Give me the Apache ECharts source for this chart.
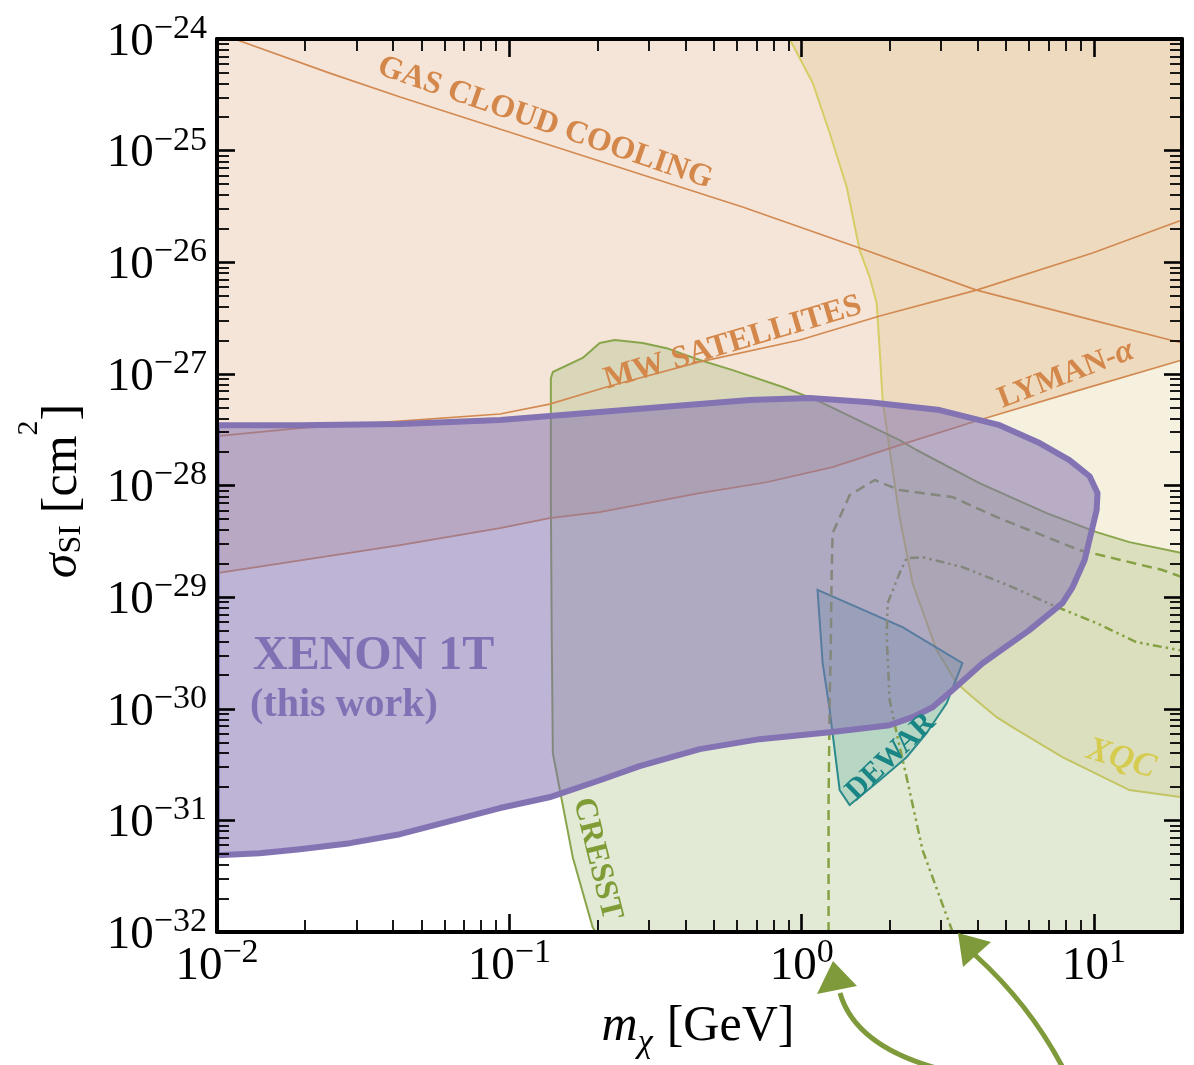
<!DOCTYPE html>
<html>
<head>
<meta charset="utf-8">
<script src="https://cdn.jsdelivr.net/npm/echarts@6/dist/echarts.min.js"></script>
<style>
html,body{margin:0;padding:0;background:#ffffff;}
#chart{width:1194px;height:1065px;}
</style>
</head>
<body>
<div id="chart"></div>
<script>
// ---------- data (mass in GeV, cross-section in cm^2) ----------
const xenon1TRegion = [
  [0.0100,3.47e-28],[0.0192,3.47e-28],[0.0423,3.55e-28],[0.0929,3.86e-28],[0.1374,4.19e-28],
  [0.302,4.94e-28],[0.664,5.82e-28],[1.065,6.07e-28],[1.708,5.58e-28],[2.965,4.74e-28],
  [4.753,3.47e-28],[6.516,2.40e-28],[8.24,1.69e-28],[9.66,1.21e-28],[10.28,8.55e-29],
  [10.21,6.03e-29],[9.886,4.24e-29],[9.29,2.15e-29],[8.453,1.23e-29],[7.798,8.83e-30],
  [6.012,5.06e-30],[4.159,2.56e-30],[3.283,1.47e-30],[2.805,1.03e-30],[2.395,8.41e-31],
  [2.0,7.13e-31],[1.247,6.17e-31],[0.718,5.34e-31],[0.448,4.35e-31],[0.279,3.06e-31],
  [0.204,2.29e-31],[0.137,1.61e-31],[0.0929,1.29e-31],[0.0627,9.84e-32],[0.0423,7.52e-32],
  [0.0285,6.25e-32],[0.0192,5.52e-32],[0.0140,5.08e-32],[0.0100,4.88e-32]
];
const cresstRegion = [
  [0.1387,9.17e-28],[0.1409,1.04e-27],[0.1782,1.39e-27],[0.2038,1.89e-27],[0.2296,2.01e-27],
  [0.2858,1.89e-27],[0.3451,1.70e-27],[0.4477,1.33e-27],[0.5807,1.08e-27],[0.861,7.62e-28],
  [1.125,5.82e-28],[2.163,2.55e-28],[2.472,2.08e-28],[4.055,1.05e-28],[6.887,5.66e-29],
  [10.21,3.82e-29],[13.21,3.11e-29],[20,2.48e-29],[20,1e-32],[0.1976,1e-32],
  [0.1928,1.10e-32],[0.1648,4.68e-32],[0.1489,1.87e-31],[0.1409,4.0e-31],[0.1397,4.12e-30],
  [0.1387,7.40e-29]
];
const xqcRegion = [
  [0.910,1e-24],[1.091,4.04e-25],[1.247,1.44e-25],[1.426,4.72e-26],[1.578,1.29e-26],
  [1.708,7.36e-27],[1.805,4.31e-27],[1.849,1.63e-27],[1.892,5.82e-28],[2.0,2.08e-28],
  [2.163,5.21e-29],[2.395,1.33e-29],[2.895,3.35e-30],[3.388,1.70e-30],[3.846,1.27e-30],
  [4.645,8.41e-31],[5.26,6.84e-31],[7.798,3.68e-31],[13.21,1.87e-31],[20,1.61e-31],[20,1e-24]
];
const dewarRegion = [
  [1.133,1.16e-29],[2.213,5.38e-30],[3.548,2.56e-30],[3.133,1.12e-30],[2.675,6.04e-31],
  [2.285,3.68e-31],[1.849,2.29e-31],[1.459,1.37e-31],[1.349,1.87e-31],[1.247,9.70e-31],
  [1.180,2.56e-30]
];
const gasCloudCooling = [
  [0.01,1.13e-24],[0.01199,9.59e-25],[0.0243,4.95e-25],[0.0423,3.02e-25],[0.628,3.13e-26],
  [1.578,1.34e-26],[3.963,5.63e-27],[9.886,3.03e-27],[20,1.89e-27]
];
const mwSatellites = [
  [0.01,2.77e-28],[0.0192,3.27e-28],[0.0423,3.78e-28],[0.0929,4.37e-28],[0.1374,5.36e-28],
  [0.2208,7.78e-28],[0.4477,1.28e-27],[0.9862,2.01e-27],[1.849,3.30e-27],[3.963,5.63e-27],
  [9.886,1.21e-26],[20,2.39e-26]
];
const lymanAlpha = [
  [0.01,1.64e-29],[0.0423,2.92e-29],[0.0929,4.15e-29],[0.1374,5.11e-29],[0.2038,5.78e-29],
  [0.4477,8.55e-29],[0.758,1.07e-28],[1.276,1.46e-28],[2.163,2.30e-28],[4.055,3.86e-28],
  [8.913,7.16e-28],[20,1.33e-27]
];
const cresstDashed = [
  [1.236,1e-32],[1.236,1.5e-31],[1.247,1.19e-30],[1.257,3.35e-30],[1.266,1.51e-29],
  [1.276,3.74e-29],[1.459,8.2e-29],[1.778,1.12e-28],[2.163,9.10e-29],[3.283,7.87e-29],
  [4.645,5.21e-29],[8.913,2.64e-29],[17.14,1.75e-29],[20,1.51e-29]
];
const cresstDashDot = [
  [3.283,1e-32],[2.592,5.41e-32],[2.285,2.44e-31],[2.113,6.04e-31],[2.0,1.19e-30],
  [1.954,4.38e-30],[1.968,8.83e-30],[2.163,1.64e-29],[2.285,2.23e-29],[2.592,2.28e-29],
  [3.548,1.86e-29],[5.26,1.23e-29],[7.211,8.47e-30],[10.21,5.85e-30],[13.96,3.95e-30],
  [19.59,3.35e-30],[20,3.3e-30]
];
const X_MIN = 0.01, X_MAX = 20;             // GeV
const SIGMA_MIN = 1e-32, SIGMA_MAX = 1e-24; // cm^2
const xTickExponents = [-2, -1, 0, 1];
const yTickExponents = [-32, -31, -30, -29, -28, -27, -26, -25, -24];
const minorTickMultiples = [2, 3, 4, 5, 6, 7, 8, 9];

(function () {
// The log axis cannot hold values as small as 1e-32, so the y axis runs in units of 1e-32 cm^2
// and its labels are written back as powers of ten in cm^2.
const SIGMA_UNIT_EXP = -32;
const SIGMA_UNIT = Math.pow(10, SIGMA_UNIT_EXP);
function toAxis(pts) { return pts.map(function (p) { return [p[0], p[1] / SIGMA_UNIT]; }); }
const Y_MIN = SIGMA_MIN / SIGMA_UNIT, Y_MAX = SIGMA_MAX / SIGMA_UNIT;

const FONT = "'Liberation Serif', 'DejaVu Serif', serif";
const chart = echarts.init(document.getElementById('chart'));

function polygonSeries(name, pts, style, z) {
  const data = toAxis(pts);
  return {
    type: 'custom', name: name, z: z, clip: true, silent: true, animation: false,
    data: data, encode: { x: 0, y: 1 },
    renderItem: function (params, api) {
      if (params.dataIndex !== 0) return null;
      return { type: 'polygon', shape: { points: data.map(function (p) { return api.coord(p); }) }, style: style };
    }
  };
}
function lineSeries(name, pts, color, width, type, z) {
  return {
    type: 'line', name: name, data: toAxis(pts), z: z, symbol: 'none', silent: true, animation: false,
    clip: true, smooth: false,
    lineStyle: { color: color, width: width, type: type || 'solid', cap: 'butt' }
  };
}

const peachRegion = lymanAlpha.concat([[X_MAX, SIGMA_MAX], [X_MIN, SIGMA_MAX]]);

// ---------- inward ticks on all four sides, drawn in data space as short segments ----------
// tick lengths expressed as fractions of a decade (grid is ~292.5 px per x decade, ~111.6 px per y decade)
const X_DECADE_PX = 292.5, Y_DECADE_PX = 111.6;
const MAJOR_LEN = 18, MINOR_LEN = 12;
function yFactor(len) { return Math.pow(10, len / Y_DECADE_PX); }
function xFactor(len) { return Math.pow(10, len / X_DECADE_PX); }
const majorTicks = [], minorTicks = [];
function addXTick(v, major) {
  const f = yFactor(major ? MAJOR_LEN : MINOR_LEN);
  const list = major ? majorTicks : minorTicks;
  list.push({ coords: [[v, Y_MIN], [v, Y_MIN * f]] });
  list.push({ coords: [[v, Y_MAX], [v, Y_MAX / f]] });
}
function addYTick(v, major) {
  const f = xFactor(major ? MAJOR_LEN : MINOR_LEN);
  const list = major ? majorTicks : minorTicks;
  list.push({ coords: [[X_MIN, v], [X_MIN * f, v]] });
  list.push({ coords: [[X_MAX, v], [X_MAX / f, v]] });
}
xTickExponents.forEach(function (e) {
  const base = Math.pow(10, e);
  addXTick(base, true);
  minorTickMultiples.forEach(function (k) { if (k * base < X_MAX * 0.995) addXTick(k * base, false); });
});
yTickExponents.forEach(function (e) {
  const base = Math.pow(10, e - SIGMA_UNIT_EXP);
  addYTick(base, true);
  minorTickMultiples.forEach(function (k) { if (k * base < Y_MAX * 0.995) addYTick(k * base, false); });
});
function tickSeries(name, data, width) {
  return { type: 'lines', name: name, coordinateSystem: 'cartesian2d', xAxisIndex: 0, yAxisIndex: 0,
    polyline: false, silent: true, animation: false, z: 30, clip: false, effect: { show: false },
    lineStyle: { color: '#000', width: width, opacity: 1, curveness: 0, cap: 'butt' }, data: data };
}

function powerText(e) { return '{b|10}{s|' + (e < 0 ? '\u2212' : '') + Math.abs(e) + '}'; }
function xLabel(v) { return powerText(Math.round(Math.log10(v))); }
function yLabel(v) { return powerText(Math.round(Math.log10(v)) + SIGMA_UNIT_EXP); }
const labelRich = {
  b: { fontFamily: FONT, fontSize: 47, color: '#000', verticalAlign: 'bottom' },
  s: { fontFamily: FONT, fontSize: 34, color: '#000', verticalAlign: 'bottom', padding: [0, 0, 20, 0] }
};

function axisCommon(extra) {
  return Object.assign({
    type: 'log', logBase: 10, z: 20,
    axisLine: { show: true, onZero: false, lineStyle: { color: '#000', width: 4 } },
    axisTick: { show: false }, minorTick: { show: false },
    splitLine: { show: false }, minorSplitLine: { show: false }
  }, extra);
}

const orange = '#d28a52';
const textOrange = '#d4874a';

const graphics = [
  { type: 'text', z: 50, x: 545, y: 123, rotation: -19 * Math.PI / 180,
    style: { text: 'GAS CLOUD COOLING', fontFamily: FONT, fontWeight: 'bold', fontSize: 32, fill: textOrange, align: 'center', verticalAlign: 'middle' } },
  { type: 'text', z: 50, x: 733, y: 343, rotation: 16.5 * Math.PI / 180,
    style: { text: 'MW SATELLITES', fontFamily: FONT, fontWeight: 'bold', fontSize: 32, fill: textOrange, align: 'center', verticalAlign: 'middle' } },
  { type: 'text', z: 50, x: 1066, y: 375, rotation: 21 * Math.PI / 180,
    style: { text: '{a|LYMAN-}{g|\u03b1}', align: 'center', verticalAlign: 'middle',
      rich: { a: { fontFamily: FONT, fontWeight: 'bold', fontSize: 31, fill: textOrange }, g: { fontFamily: FONT, fontStyle: 'italic', fontWeight: 'bold', fontSize: 33, fill: textOrange } } } },
  { type: 'text', z: 50, x: 253, y: 657,
    style: { text: 'XENON 1T', fontFamily: FONT, fontWeight: 'bold', fontSize: 48, fill: '#8070b4', align: 'left', verticalAlign: 'middle' } },
  { type: 'text', z: 50, x: 250, y: 706,
    style: { text: '(this work)', fontFamily: FONT, fontWeight: 'bold', fontSize: 40, fill: '#8070b4', align: 'left', verticalAlign: 'middle' } },
  { type: 'text', z: 50, x: 597, y: 859, rotation: -76 * Math.PI / 180,
    style: { text: 'CRESST', fontFamily: FONT, fontWeight: 'bold', fontSize: 32, fill: '#7f9c37', align: 'center', verticalAlign: 'middle' } },
  { type: 'text', z: 50, x: 891, y: 757, rotation: 44 * Math.PI / 180,
    style: { text: 'DEWAR', fontFamily: FONT, fontWeight: 'bold', fontSize: 30, fill: '#1a8585', align: 'center', verticalAlign: 'middle' } },
  { type: 'text', z: 50, x: 1121, y: 759, rotation: -17 * Math.PI / 180,
    style: { text: 'XQC', fontFamily: FONT, fontWeight: 'bold', fontStyle: 'italic', fontSize: 34, fill: '#d5cb4e', align: 'center', verticalAlign: 'middle' } },
  { type: 'text', z: 50, x: 698, y: 1031,
    style: { text: '{i|m}{sub|\u03c7}{r|[GeV]}', align: 'center', verticalAlign: 'middle', fill: '#000',
      rich: {
        i: { fontFamily: FONT, fontStyle: 'italic', fontSize: 50, verticalAlign: 'top', fill: '#000' },
        r: { fontFamily: FONT, fontSize: 50, verticalAlign: 'top', fill: '#000', padding: [0, 0, 0, 14] },
        sub: { fontFamily: FONT, fontStyle: 'italic', fontSize: 34, verticalAlign: 'top', padding: [24, 0, 0, 0], fill: '#000' }
      } } },
  { type: 'text', z: 50, x: 51, y: 491, rotation: Math.PI / 2,
    style: { text: '{i|\u03c3}{sub|SI}{r1|[cm}{sup|2}{r|]}', align: 'center', verticalAlign: 'middle', fill: '#000',
      rich: {
        i: { fontFamily: FONT, fontStyle: 'italic', fontSize: 50, verticalAlign: 'bottom', fill: '#000' },
        r1: { fontFamily: FONT, fontSize: 50, verticalAlign: 'bottom', fill: '#000', padding: [0, 0, 0, 12] },
        r: { fontFamily: FONT, fontSize: 50, verticalAlign: 'bottom', fill: '#000' },
        sub: { fontFamily: FONT, fontSize: 32, verticalAlign: 'bottom', fill: '#000' },
        sup: { fontFamily: FONT, fontSize: 30, verticalAlign: 'bottom', padding: [0, 0, 44, 0], fill: '#000' }
      } } },
  { type: 'bezierCurve', z: 50, shape: { x1: 840, y1: 993, cpx1: 855, cpy1: 1045, x2: 936, y2: 1068 },
    style: { stroke: '#7f9a3a', lineWidth: 5, fill: null } },
  { type: 'polygon', z: 50, shape: { points: [[833, 961], [817, 994], [857, 986]] }, style: { fill: '#7f9a3a' } },
  { type: 'bezierCurve', z: 50, shape: { x1: 975, y1: 955, cpx1: 1030, cpy1: 1005, x2: 1063, y2: 1068 },
    style: { stroke: '#7f9a3a', lineWidth: 5, fill: null } },
  { type: 'polygon', z: 50, shape: { points: [[958, 933], [963, 967], [991, 942]] }, style: { fill: '#7f9a3a' } }
];

const option = {
  backgroundColor: '#ffffff',
  animation: false,
  grid: { left: 217, top: 39, right: 12, bottom: 133, containLabel: false },
  xAxis: [
    axisCommon({ min: X_MIN, max: X_MAX, position: 'bottom', interval: 1,
      axisLabel: { margin: 4, showMaxLabel: false, formatter: xLabel, rich: labelRich } }),
    axisCommon({ min: X_MIN, max: X_MAX, position: 'top', axisLabel: { show: false } })
  ],
  yAxis: [
    axisCommon({ min: Y_MIN, max: Y_MAX, position: 'left', interval: 1,
      axisLabel: { margin: 10, formatter: yLabel, rich: labelRich } }),
    axisCommon({ min: Y_MIN, max: Y_MAX, position: 'right', axisLabel: { show: false } })
  ],
  series: [
    polygonSeries('Cosmology', peachRegion, { fill: 'rgba(215,150,100,0.25)' }, 1),
    polygonSeries('XQC', xqcRegion, { fill: 'rgba(212,186,100,0.21)', stroke: '#d6cd66', lineWidth: 2 }, 2),
    polygonSeries('CRESST', cresstRegion, { fill: 'rgba(140,170,90,0.25)', stroke: '#89a54b', lineWidth: 2, lineJoin: 'round' }, 3),
    polygonSeries('DEWAR', dewarRegion, { fill: 'rgba(50,150,140,0.24)', stroke: '#2a8a8c', lineWidth: 2 }, 4),
    lineSeries('Gas cloud cooling', gasCloudCooling, orange, 1.7, 'solid', 5),
    lineSeries('MW satellites', mwSatellites, orange, 1.7, 'solid', 5),
    lineSeries('Lyman-alpha', lymanAlpha, orange, 1.7, 'solid', 5),
    lineSeries('CRESST surface', cresstDashed, '#86a144', 2.5, [10, 6], 5),
    lineSeries('CRESST surface 2', cresstDashDot, '#86a144', 2.5, [9, 4, 2.5, 4, 2.5, 4], 5),
    polygonSeries('XENON1T', xenon1TRegion, { fill: 'rgba(128,112,176,0.52)', stroke: '#8373b3', lineWidth: 6, lineJoin: 'round' }, 6),
    tickSeries('major ticks', majorTicks, 2.6),
    tickSeries('minor ticks', minorTicks, 1.8)
  ],
  graphic: graphics
};
chart.setOption(option);
})();
</script>
</body>
</html>
